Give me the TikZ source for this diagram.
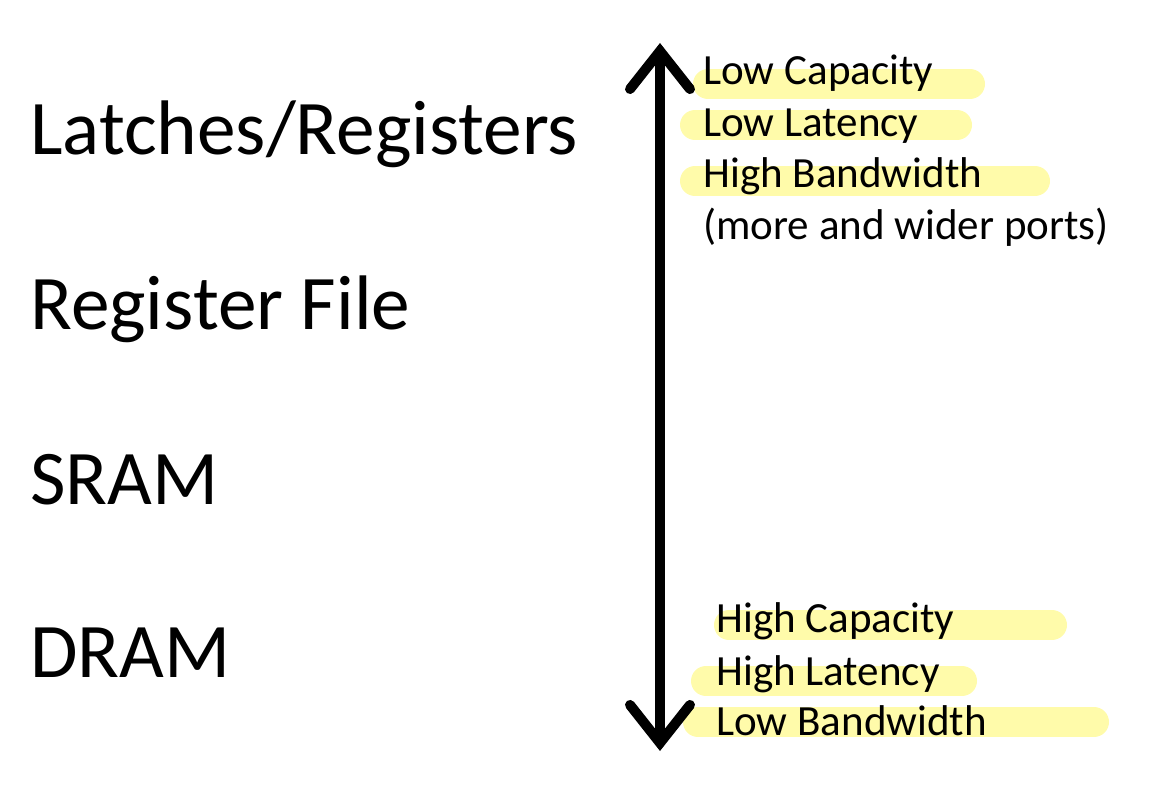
\documentclass[tikz,border=0pt]{standalone}
\usepackage{fontspec}
\setmainfont{Carlito}
\usetikzlibrary{arrows.meta}
\definecolor{hiyellow}{RGB}{255,251,170}
\tikzset{
    hilite/.style={line width=0.6cm,line cap=round,draw=hiyellow},
    big/.style={anchor=base west,inner sep=0pt,font=\fontsize{44}{50}\selectfont},
    small/.style={anchor=base west,inner sep=0pt,font=\fontsize{24.5}{28}\selectfont}
}
\begin{document}
\begin{tikzpicture}[x=0.02cm,y=-0.02cm]
        \useasboundingbox (0,0) rectangle (1174,800);
        % highlights
        \draw [hilite] (708,84)--(970,84);
        \draw [hilite] (695,125)--(957,125);
        \draw [hilite] (695,181)--(1035,181);
        \draw [hilite] (729,625)--(1052,625);
        \draw [hilite] (706,681)--(962,681);
        \draw [hilite] (698,722)--(1094,722);

        % left labels
        \node [big] (latch) at(30,155) {Latches/Registers};
        \node [big] (regfile) at(30,330) {Register File};
        \node [big] (sram) at(30,505) {SRAM};
        \node [big] (dram) at(30,677) {DRAM};

        % arrow
        \coordinate (top) at(660,43);
        \coordinate (bot) at(660,751);
        \draw [line width=0.2cm,{Straight Barb[length=0.76cm,width=1.2cm,line cap=round]}-{Straight Barb[length=0.76cm,width=1.2cm,line cap=round]}] (top)--(bot);

        % top properties
        \node [small] (lowcap) at(703,85) {Low Capacity};
        \node [small] (lowlat) at(703,137) {Low Latency};
        \node [small] (highbw) at(703,188) {High Bandwidth};
        \node [small] (ports) at(703,240) {(more and wider ports)};

        % bottom properties
        \node [small] (highcap) at(716,633) {High Capacity};
        \node [small] (highlat) at(716,685) {High Latency};
        \node [small] (lowbw) at(716,735) {Low Bandwidth};
\end{tikzpicture}
\end{document}
